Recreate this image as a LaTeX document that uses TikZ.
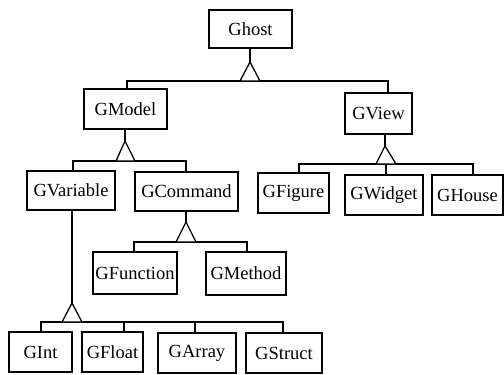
\documentclass[tikz,border=0pt]{standalone}
\usepackage{fontspec}
\setmainfont{Liberation Serif}
\begin{document}
\begin{tikzpicture}[x=1pt,y=-1pt,
  cls/.style={draw, line width=1.3pt, fill=white, inner sep=0pt, font=\rmfamily\fontsize{18.5}{22}\selectfont},
  link/.style={draw, line width=1.3pt},
  tri/.style={draw, line width=1.3pt, fill=white, line join=miter}]
\fill[white] (0,0) rectangle (504,375);
\useasboundingbox (0,0) rectangle (504,375);
% classes
\node[cls, minimum width=83pt, minimum height=38pt] (ghost) at (250.5,29) {Ghost};
\node[cls, minimum width=83pt, minimum height=40pt] (gmodel) at (125.5,109) {GModel};
\node[cls, minimum width=67pt, minimum height=41pt] (gview) at (378.5,113.5) {GView};
\node[cls, minimum width=88pt, minimum height=39pt] (gvariable) at (71,190.5) {GVariable};
\node[cls, minimum width=103pt, minimum height=39pt] (gcommand) at (186.5,191.5) {GCommand};
\node[cls, minimum width=71pt, minimum height=40pt] (gfigure) at (293.5,193) {GFigure};
\node[cls, minimum width=78pt, minimum height=40pt] (gwidget) at (384,195) {GWidget};
\node[cls, minimum width=71pt, minimum height=40pt] (ghouse) at (467.5,195) {GHouse};
\node[cls, minimum width=84pt, minimum height=42pt] (gfunction) at (135,273) {GFunction};
\node[cls, minimum width=80pt, minimum height=43pt] (gmethod) at (246,273.5) {GMethod};
\node[cls, minimum width=63pt, minimum height=40pt] (gint) at (40.5,352) {GInt};
\node[cls, minimum width=61pt, minimum height=40pt] (gfloat) at (112.5,352) {GFloat};
\node[cls, minimum width=78pt, minimum height=40pt] (garray) at (197,353) {GArray};
\node[cls, minimum width=76pt, minimum height=40pt] (gstruct) at (284,353) {GStruct};

% Ghost -> GModel, GView
\coordinate (a1) at (250,62);
\coordinate (l1) at (240,81);
\coordinate (r1) at (260,81);
\coordinate (b1s) at (127,81);
\coordinate (b1e) at (388,81);
\draw[link] (a1) -- (a1 |- ghost.south);
\draw[link] (b1s |- gmodel.north) -- (b1s) -- (b1e) -- (b1e |- gview.north);
\draw[tri] (a1) -- (l1) -- (r1) -- cycle;

% GModel -> GVariable, GCommand
\coordinate (a2) at (125,141);
\coordinate (l2) at (116,161);
\coordinate (r2) at (135,161);
\coordinate (b2s) at (73,161);
\coordinate (b2e) at (186,161);
\draw[link] (a2) -- (a2 |- gmodel.south);
\draw[link] (b2s |- gvariable.north) -- (b2s) -- (b2e) -- (b2e |- gcommand.north);
\draw[tri] (a2) -- (l2) -- (r2) -- cycle;

% GView -> GFigure, GWidget, GHouse
\coordinate (a3) at (385,146);
\coordinate (l3) at (376,164);
\coordinate (r3) at (396,164);
\coordinate (b3s) at (299,164);
\coordinate (b3m) at (386,164);
\coordinate (b3e) at (473,164);
\draw[link] (a3) -- (a3 |- gview.south);
\draw[link] (b3s |- gfigure.north) -- (b3s) -- (b3e) -- (b3e |- ghouse.north);
\draw[link] (b3m) -- (b3m |- gwidget.north);
\draw[tri] (a3) -- (l3) -- (r3) -- cycle;

% GCommand -> GFunction, GMethod
\coordinate (a4) at (186,222);
\coordinate (l4) at (176,242);
\coordinate (r4) at (196,242);
\coordinate (b4s) at (134,242);
\coordinate (b4e) at (247,242);
\draw[link] (a4) -- (a4 |- gcommand.south);
\draw[link] (b4s |- gfunction.north) -- (b4s) -- (b4e) -- (b4e |- gmethod.north);
\draw[tri] (a4) -- (l4) -- (r4) -- cycle;

% GVariable -> GInt, GFloat, GArray, GStruct
\coordinate (a5) at (72,303);
\coordinate (l5) at (62,322);
\coordinate (r5) at (82,322);
\coordinate (b5s) at (41,322);
\coordinate (b5f) at (124,322);
\coordinate (b5a) at (195,322);
\coordinate (b5e) at (283,322);
\draw[link] (a5) -- (a5 |- gvariable.south);
\draw[link] (b5s |- gint.north) -- (b5s) -- (b5e) -- (b5e |- gstruct.north);
\draw[link] (b5f) -- (b5f |- gfloat.north);
\draw[link] (b5a) -- (b5a |- garray.north);
\draw[tri] (a5) -- (l5) -- (r5) -- cycle;
\end{tikzpicture}
\end{document}
